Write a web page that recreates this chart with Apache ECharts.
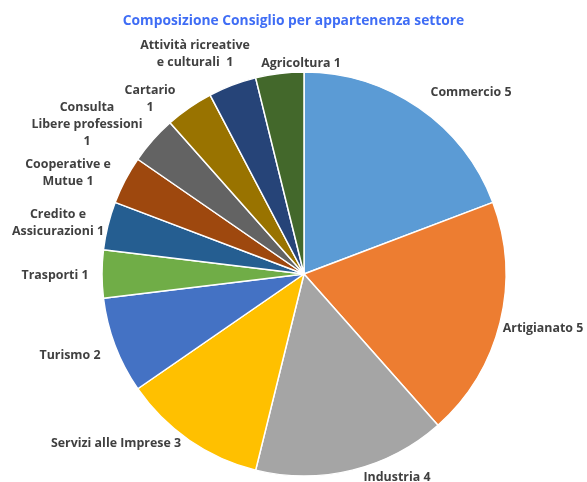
<!DOCTYPE html>
<html><head><meta charset="utf-8">
<script src="https://cdn.jsdelivr.net/npm/echarts@6/dist/echarts.min.js"></script>
<style>html,body{margin:0;padding:0;background:#fff}#c{width:587px;height:482px}</style>
</head><body><div id="c"></div>
<script>
var categories = ['Commercio','Artigianato','Industria','Servizi alle Imprese','Turismo','Trasporti','Credito e Assicurazioni','Cooperative e Mutue','Consulta Libere professioni','Cartario','Attività ricreative e culturali','Agricoltura'];
var values = [5,5,4,3,2,1,1,1,1,1,1,1];
var labelTexts = ['Commercio 5','Artigianato 5','Industria 4','Servizi alle Imprese 3','Turismo 2','Trasporti 1','Credito e\nAssicurazioni 1','Cooperative e\nMutue 1','Consulta\nLibere professioni\n1','Cartario\n1','Attività ricreative\ne culturali  1','Agricoltura 1'];
var colors = ['#5B9BD5','#ED7D31','#A5A5A5','#FFC000','#4472C4','#70AD47','#255E91','#9E480E','#636363','#997300','#264478','#43682B'];
var labelPos = [[471,92],[543,328],[397,477],[116,443],[70,355],[55,275],[58,223],[68,173],[87,124],[150,99],[195,54],[301,63]];

var chart = echarts.init(document.getElementById('c'));
chart.setOption({
  animation:false,
  title:{text:'Composizione Consiglio per appartenenza settore',left:'center',top:9,
    textStyle:{fontFamily:'Open Sans',fontWeight:'bold',fontSize:13.8,color:'#3F6DF5'}},
  series:[{
    type:'pie',
    center:[304,274],
    radius:202,
    startAngle:90,
    clockwise:true,
    data:categories.map(function(n,i){return {name:n,value:values[i],itemStyle:{color:colors[i]}};}),
    itemStyle:{borderColor:'#fff',borderWidth:1.5},
    label:{show:true,position:'outside',overflow:'none',
      formatter:function(p){return labelTexts[p.dataIndex];},
      fontFamily:'Open Sans',fontWeight:'bold',fontSize:12.4,color:'#404040',lineHeight:17,align:'center'},
    labelLine:{show:false},
    labelLayout:function(p){var q=labelPos[p.dataIndex];return {x:q[0],y:q[1],align:'center',verticalAlign:'middle',hideOverlap:false};}
  }]
});
</script></body></html>
